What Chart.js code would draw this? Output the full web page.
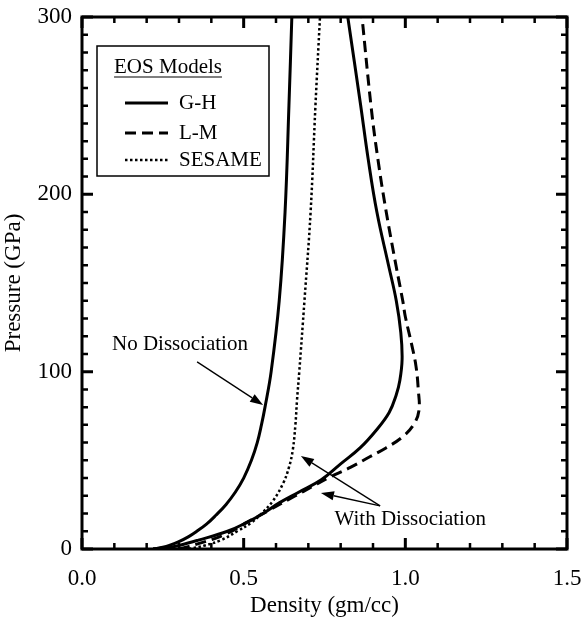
<!DOCTYPE html>
<html>
<head>
<meta charset="utf-8">
<script src="https://cdn.jsdelivr.net/npm/chart.js@4.4.0/dist/chart.umd.min.js"></script>
<style>
  html, body { margin: 0; padding: 0; background: #fff; overflow: hidden; }
  #wrap { width: 581px; height: 620px; position: relative; }
</style>
</head>
<body>
<div id="wrap"><canvas id="eosChart"></canvas></div>
<script>
// G-H, no dissociation
const ghNoDissDensity  = [0.22, 0.25, 0.27, 0.298, 0.33, 0.355, 0.385, 0.414, 0.445, 0.474, 0.5, 0.524, 0.542, 0.555, 0.566, 0.585, 0.61, 0.628, 0.64, 0.649];
const ghNoDissPressure = [0, 1, 2, 4, 7, 10, 14, 19, 25, 32, 40, 50, 60, 70, 80, 100, 140, 190, 250, 300];

// G-H, with dissociation
const ghDissDensity  = [0.22, 0.27, 0.30, 0.36, 0.45, 0.51, 0.56, 0.61, 0.67, 0.74, 0.80, 0.86, 0.91, 0.95, 0.972, 0.983, 0.99, 0.986, 0.972, 0.948, 0.912, 0.885, 0.862, 0.822];
const ghDissPressure = [0, 1, 2, 5, 10, 15, 20, 26, 32, 39, 48, 57, 67, 77, 87, 95, 107, 122, 140, 160, 190, 220, 250, 300];

// L-M
const lmDensity  = [0.30, 0.36, 0.44, 0.51, 0.58, 0.66, 0.71, 0.76, 0.83, 0.89, 0.94, 0.99, 1.025, 1.042, 1.04, 1.033, 1.02, 1.0, 0.992, 0.972, 0.94, 0.915, 0.895, 0.866];
const lmPressure = [0, 3, 8, 15, 22, 30, 35, 40, 46, 52, 57, 63, 70, 78, 90, 103, 115, 131, 140, 159, 191, 220, 248, 300];

// SESAME
const sesameDensity  = [0.33, 0.38, 0.43, 0.48, 0.525, 0.555, 0.59, 0.622, 0.64, 0.652, 0.66, 0.665, 0.672, 0.688, 0.707, 0.722, 0.736];
const sesamePressure = [0, 2, 5, 10, 15, 20, 27, 37, 46, 56, 70, 84, 100, 140, 190, 250, 300];

// tick values
const xMajorTicks = [0.0, 0.5, 1.0, 1.5];
const yMajorTicks = [0, 100, 200, 300];

// annotations: [text, x, y]
const annotationTexts = [
  ['No Dissociation', 0.303, 115.6],
  ['With Dissociation', 1.015, 16.9]
];
// arrows: [fromX, fromY, toX, toY]
const annotationArrows = [
  [0.356, 105.5, 0.56, 81.2],
  [0.922, 24.3, 0.677, 52.5],
  [0.922, 24.3, 0.739, 31.6]
];

const SERIF = '"Liberation Serif", "DejaVu Serif", serif';

function toPoints(xs, ys) {
  return xs.map((v, i) => ({ x: v, y: ys[i] }));
}

function lineSet(label, xs, ys, dash, width, inLegend) {
  return {
    label: label,
    data: toPoints(xs, ys),
    showLine: true,
    borderColor: '#000',
    backgroundColor: '#000',
    borderWidth: width,
    borderDash: dash,
    borderCapStyle: 'butt',
    pointRadius: 0,
    tension: 0.4,
    inLegend: inLegend
  };
}

const datasets = [
  lineSet('G-H', ghNoDissDensity, ghNoDissPressure, [], 3, true),
  lineSet('G-H', ghDissDensity, ghDissPressure, [], 3, false),
  lineSet('L-M', lmDensity, lmPressure, [11, 6], 3, true),
  lineSet('SESAME', sesameDensity, sesamePressure, [2.5, 2.5], 2.5, true)
];

// 枠・内向き目盛り・注記・凡例
const framePlugin = {
  id: 'framePlugin',
  afterDatasetsDraw(chart) {
    const { ctx, chartArea: a, scales: { x, y } } = chart;
    ctx.save();
    ctx.strokeStyle = '#000';
    ctx.fillStyle = '#000';

    // frame
    ctx.lineWidth = 3;
    ctx.strokeRect(a.left, a.top, a.right - a.left, a.bottom - a.top);

    // x ticks, every 0.1
    for (let i = 0; i <= 15; i++) {
      const px = x.getPixelForValue(i / 10);
      const major = i % 5 === 0;
      const len = major ? 11 : 6;
      ctx.lineWidth = major ? 3 : 2.5;
      ctx.beginPath();
      ctx.moveTo(px, a.bottom); ctx.lineTo(px, a.bottom - len);
      ctx.moveTo(px, a.top); ctx.lineTo(px, a.top + len);
      ctx.stroke();
    }
    // y ticks, every 10
    for (let i = 0; i <= 30; i++) {
      const py = y.getPixelForValue(i * 10);
      const major = i % 10 === 0;
      const len = major ? 11 : 6;
      ctx.lineWidth = major ? 3 : 2.5;
      ctx.beginPath();
      ctx.moveTo(a.left, py); ctx.lineTo(a.left + len, py);
      ctx.moveTo(a.right, py); ctx.lineTo(a.right - len, py);
      ctx.stroke();
    }

    // annotation text
    ctx.font = '21px ' + SERIF;
    ctx.textAlign = 'center';
    ctx.textBaseline = 'middle';
    annotationTexts.forEach(([t, vx, vy]) => {
      ctx.fillText(t, x.getPixelForValue(vx), y.getPixelForValue(vy));
    });

    // arrows
    ctx.lineWidth = 1.3;
    annotationArrows.forEach(([x0, y0, x1, y1]) => {
      const sx = x.getPixelForValue(x0), sy = y.getPixelForValue(y0);
      const ex = x.getPixelForValue(x1), ey = y.getPixelForValue(y1);
      const ang = Math.atan2(ey - sy, ex - sx);
      const hl = 13, hw = 4.5;
      const bx = ex - hl * Math.cos(ang), by = ey - hl * Math.sin(ang);
      ctx.beginPath();
      ctx.moveTo(sx, sy); ctx.lineTo(bx, by);
      ctx.stroke();
      ctx.beginPath();
      ctx.moveTo(ex, ey);
      ctx.lineTo(bx + hw * Math.sin(ang), by - hw * Math.cos(ang));
      ctx.lineTo(bx - hw * Math.sin(ang), by + hw * Math.cos(ang));
      ctx.closePath();
      ctx.fill();
    });

    // legend box
    const bx0 = a.left + 15, by0 = a.top + 29, bw = 172, bh = 130;
    ctx.fillStyle = '#fff';
    ctx.fillRect(bx0, by0, bw, bh);
    ctx.fillStyle = '#000';
    ctx.lineWidth = 1.5;
    ctx.strokeRect(bx0, by0, bw, bh);

    ctx.font = '21px ' + SERIF;
    ctx.textAlign = 'center';
    ctx.textBaseline = 'middle';
    const title = 'EOS Models';
    const tcx = bx0 + 71, tcy = by0 + 21;
    ctx.fillText(title, tcx, tcy);
    const tw = ctx.measureText(title).width;
    ctx.lineWidth = 1.2;
    ctx.beginPath();
    ctx.moveTo(tcx - tw / 2, tcy + 10); ctx.lineTo(tcx + tw / 2, tcy + 10);
    ctx.stroke();

    const rows = chart.data.datasets.filter(d => d.inLegend);
    const rowY = [by0 + 57, by0 + 87, by0 + 114];
    ctx.textAlign = 'left';
    rows.forEach((d, i) => {
      const ry = rowY[i];
      ctx.lineWidth = d.borderWidth;
      ctx.setLineDash(d.borderDash);
      ctx.beginPath();
      ctx.moveTo(bx0 + 28, ry); ctx.lineTo(bx0 + 71, ry);
      ctx.stroke();
      ctx.setLineDash([]);
      ctx.fillText(d.label, bx0 + 82, ry);
    });

    ctx.restore();
  }
};

new Chart(document.getElementById('eosChart'), {
  type: 'scatter',
  data: { datasets: datasets },
  options: {
    responsive: true,
    maintainAspectRatio: false,
    animation: false,
    layout: { padding: { top: 17, right: 14, left: 0, bottom: 0 } },
    plugins: {
      legend: { display: false },
      tooltip: { enabled: false }
    },
    scales: {
      x: {
        type: 'linear',
        min: 0, max: 1.5,
        afterBuildTicks: s => { s.ticks = xMajorTicks.map(v => ({ value: v })); },
        afterFit: s => { s.height = 71; s.paddingLeft = 0; s.paddingRight = 0; },
        grid: { display: false, drawTicks: false },
        border: { display: false },
        ticks: {
          color: '#000',
          font: { family: SERIF, size: 23 },
          padding: 16,
          maxRotation: 0,
          callback: v => Number(v).toFixed(1)
        },
        title: {
          display: true,
          text: 'Density (gm/cc)',
          color: '#000',
          font: { family: SERIF, size: 23 },
          padding: { top: 2, bottom: 0 }
        }
      },
      y: {
        type: 'linear',
        min: 0, max: 300,
        afterBuildTicks: s => { s.ticks = yMajorTicks.map(v => ({ value: v })); },
        afterFit: s => { s.width = 82; s.paddingTop = 0; s.paddingBottom = 0; },
        grid: { display: false, drawTicks: false },
        border: { display: false },
        ticks: {
          color: '#000',
          font: { family: SERIF, size: 23 },
          padding: 10
        },
        title: {
          display: true,
          text: 'Pressure (GPa)',
          color: '#000',
          font: { family: SERIF, size: 23 },
          padding: { top: 0, bottom: 4 }
        }
      }
    }
  },
  plugins: [framePlugin]
});
</script>
</body>
</html>
